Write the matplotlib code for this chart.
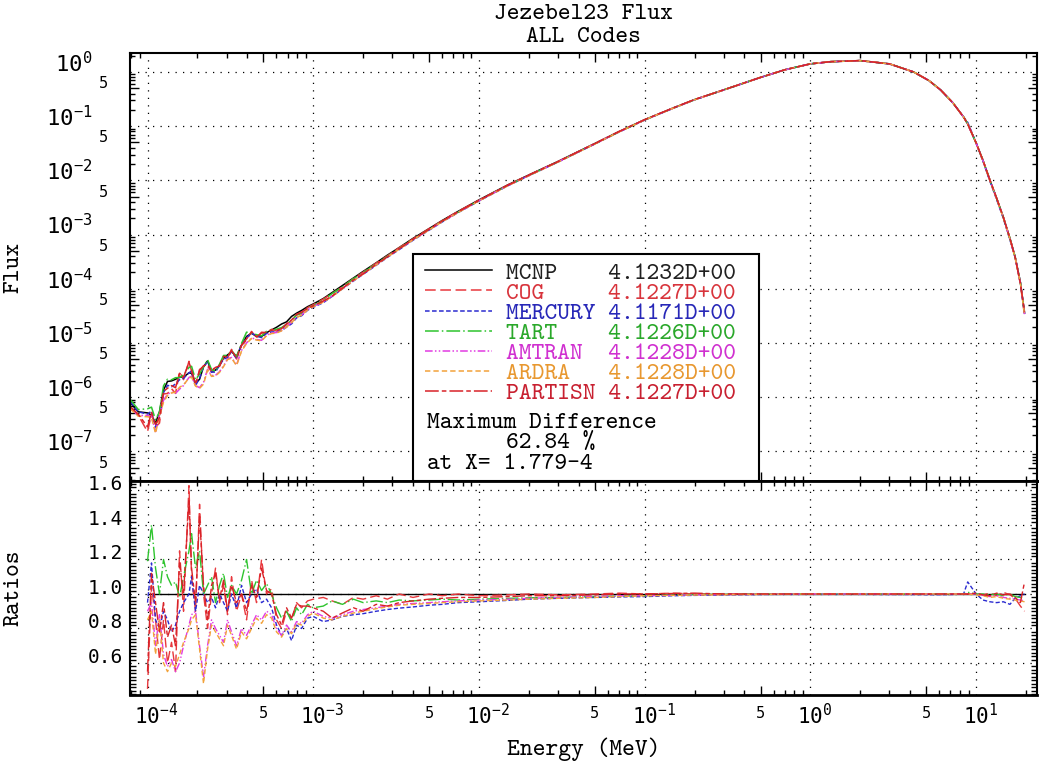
import numpy as np
import matplotlib
matplotlib.use("Agg")
import matplotlib.pyplot as plt
from matplotlib.ticker import FixedLocator, FuncFormatter, MultipleLocator
from matplotlib.patches import Rectangle
from matplotlib.transforms import ScaledTranslation

plt.rcParams['font.family'] = 'DejaVu Sans Mono'
plt.rcParams['mathtext.default'] = 'regular'

# energy grid (MeV)
energy = [7.9e-5, 8.8e-5,
          1.000e-4, 1.057e-4, 1.118e-4, 1.181e-4, 1.249e-4, 1.320e-4, 1.396e-4, 1.476e-4, 1.561e-4, 1.650e-4,
          1.779e-4, 1.844e-4, 1.949e-4, 2.061e-4, 2.178e-4, 2.303e-4, 2.434e-4, 2.573e-4, 2.720e-4, 2.876e-4,
          3.040e-4, 3.214e-4, 3.445e-4, 3.693e-4, 3.959e-4, 4.244e-4, 4.549e-4, 4.877e-4, 5.228e-4, 5.604e-4,
          6.007e-4, 6.440e-4, 6.902e-4, 7.399e-4, 7.932e-4, 8.503e-4, 9.244e-4, 1.000e-3,
          1.15e-3, 1.3e-3, 1.5e-3, 1.75e-3, 2.0e-3, 2.4e-3, 2.8e-3, 3.3e-3, 4.0e-3, 5.0e-3, 6.0e-3, 7.5e-3,
          1.0e-2, 1.5e-2, 2.0e-2, 3.0e-2, 5.0e-2, 7.0e-2, 0.10,
          0.15, 0.20, 0.30, 0.50, 0.70, 1.0, 1.32, 2.0, 3.0, 4.2, 5.2, 6.1, 7.2,
          8.4, 8.9, 10.0, 11.0, 12.1, 13.3, 14.6, 16.0, 17.2, 18.5, 19.6]

# MCNP flux, log10 values
mcnp_log_flux = [-6.11, -6.27,
                 -6.29, -6.33, -6.48, -6.27, -5.87, -5.71, -5.70, -5.67, -5.63, -5.63,
                 -5.55, -5.56, -5.74, -5.67, -5.44, -5.33, -5.53, -5.50, -5.41, -5.28,
                 -5.22, -5.16, -5.25, -5.04, -4.88, -4.82, -4.88, -4.88, -4.81, -4.76,
                 -4.71, -4.65, -4.61, -4.51, -4.45, -4.40, -4.33, -4.28,
                 -4.18, -4.07, -3.94, -3.80, -3.68, -3.52, -3.38, -3.24, -3.07, -2.89, -2.74, -2.57,
                 -2.36, -2.08, -1.90, -1.65, -1.32, -1.10, -0.88,
                 -0.66, -0.51, -0.33, -0.10, 0.04, 0.15, 0.19, 0.21, 0.15, 0.00, -0.16, -0.33, -0.56,
                 -0.83, -0.96, -1.31, -1.63, -1.99, -2.33, -2.68, -3.07, -3.41, -3.88, -4.45]

# ratios code / MCNP
ratio_cog = [0.82, 0.86,
             0.45, 1.05, 0.85, 0.62, 0.85, 0.60, 0.72, 0.55, 1.25, 0.90,
             1.628, 1.10, 0.90, 1.52, 1.00, 0.80, 1.00, 1.15, 0.95, 1.05,
             0.88, 1.10, 0.90, 1.00, 0.85, 1.08, 0.95, 1.20, 1.00, 1.03,
             0.85, 0.80, 0.90, 0.85, 0.95, 0.92, 0.96, 0.97,
             0.98, 0.96, 0.94, 0.98, 0.97, 0.99, 0.97, 1.00, 0.98, 1.00, 0.99, 1.00,
             0.99, 0.995, 1.00, 0.995, 1.00, 1.005, 1.00,
             1.005, 1.00, 1.002, 1.00, 1.00, 1.00, 1.00, 1.00, 1.00, 1.00, 1.00, 1.00, 1.00,
             1.00, 1.00, 1.00, 0.995, 1.005, 0.99, 1.01, 0.995, 0.975, 0.93, 0.90]

ratio_mercury = [1.05, 1.00,
                 0.95, 1.18, 0.85, 0.80, 0.90, 0.85, 0.78, 0.82, 0.90, 0.95,
                 1.00, 1.10, 0.90, 1.05, 1.00, 0.95, 0.98, 0.92, 1.00, 0.95,
                 0.90, 1.00, 0.92, 1.05, 0.95, 1.00, 1.03, 0.95, 0.97, 0.92,
                 0.82, 0.76, 0.80, 0.73, 0.82, 0.80, 0.86, 0.87,
                 0.84, 0.85, 0.87, 0.88, 0.886, 0.90, 0.91, 0.918, 0.925, 0.935, 0.94, 0.95,
                 0.955, 0.963, 0.97, 0.975, 0.98, 0.983, 0.985,
                 0.99, 0.992, 0.995, 0.997, 0.998, 0.998, 0.998, 0.998, 0.997, 0.997, 0.996, 0.996, 0.997,
                 1.00, 1.07, 1.00, 0.965, 0.955, 0.95, 0.955, 0.94, 0.975, 0.99, 1.00]

ratio_tart = [1.15, 1.10,
              1.19, 1.40, 1.15, 1.00, 1.20, 1.10, 1.05, 1.07, 0.98, 1.10,
              1.25, 1.35, 1.15, 1.25, 1.00, 1.05, 1.10, 0.95, 1.05, 1.12,
              0.98, 1.05, 1.00, 1.08, 1.20, 1.00, 1.08, 1.02, 1.06, 1.00,
              0.92, 0.86, 0.90, 0.84, 0.92, 0.88, 0.94, 0.92,
              0.93, 0.96, 0.94, 0.97, 0.95, 0.96, 0.95, 0.965, 0.96, 0.965, 0.97, 0.965,
              0.97, 0.975, 0.978, 0.98, 0.985, 0.988, 0.99,
              0.995, 0.997, 0.998, 1.00, 1.00, 1.00, 1.00, 1.00, 1.00, 1.00, 1.00, 1.00, 1.00,
              1.00, 1.01, 1.00, 1.00, 0.995, 1.00, 0.99, 1.00, 0.985, 0.98, 0.97]

ratio_amtran = [0.80, 0.85,
                0.90, 0.95, 0.70, 0.88, 0.65, 0.58, 0.62, 0.55, 0.60, 0.70,
                0.82, 0.88, 0.90, 0.70, 0.52, 0.70, 0.85, 0.80, 0.76, 0.72,
                0.85, 0.78, 0.70, 0.80, 0.76, 0.82, 0.88, 0.85, 0.90, 0.88,
                0.80, 0.76, 0.82, 0.78, 0.84, 0.83, 0.88, 0.90,
                0.87, 0.86, 0.88, 0.90, 0.91, 0.92, 0.93, 0.94, 0.945, 0.95, 0.955, 0.96,
                0.965, 0.97, 0.975, 0.98, 0.985, 0.99, 0.99,
                0.993, 0.995, 0.997, 0.998, 0.999, 1.00, 1.00, 1.00, 1.00, 1.00, 1.00, 1.00, 1.00,
                1.00, 1.00, 1.00, 0.99, 0.985, 0.99, 0.98, 0.975, 0.97, 0.965, 0.96]

ratio_ardra = [0.78, 0.83,
               0.85, 0.90, 0.65, 0.85, 0.60, 0.55, 0.60, 0.58, 0.65, 0.72,
               0.80, 0.85, 0.88, 0.68, 0.48, 0.68, 0.82, 0.78, 0.74, 0.70,
               0.82, 0.76, 0.68, 0.78, 0.74, 0.80, 0.86, 0.83, 0.88, 0.86,
               0.78, 0.75, 0.80, 0.77, 0.83, 0.82, 0.87, 0.89,
               0.86, 0.85, 0.87, 0.89, 0.90, 0.915, 0.925, 0.935, 0.94, 0.945, 0.95, 0.955,
               0.96, 0.965, 0.97, 0.975, 0.98, 0.985, 0.99,
               0.992, 0.994, 0.996, 0.998, 0.999, 1.00, 1.00, 1.00, 1.00, 1.00, 1.00, 1.00, 1.00,
               1.00, 1.00, 0.995, 0.99, 0.98, 0.985, 0.975, 0.97, 0.965, 0.96, 0.955]

ratio_partisn = [0.85, 0.90,
                 0.55, 1.12, 0.95, 0.78, 0.95, 0.75, 0.82, 0.70, 1.18, 1.00,
                 1.55, 1.15, 0.95, 1.45, 1.05, 0.85, 1.05, 1.12, 0.97, 1.08,
                 0.90, 1.05, 0.95, 1.00, 0.90, 1.05, 0.98, 1.15, 1.02, 1.00,
                 0.88, 0.82, 0.92, 0.86, 0.94, 0.93, 0.93, 0.92,
                 0.90, 0.86, 0.89, 0.92, 0.90, 0.94, 0.93, 0.95, 0.96, 0.97, 0.975, 0.98,
                 0.98, 0.985, 0.99, 0.99, 0.995, 1.00, 1.00,
                 1.003, 1.005, 1.00, 1.00, 1.00, 1.00, 1.00, 1.00, 1.00, 1.00, 1.00, 1.00, 1.00,
                 1.00, 1.00, 1.005, 0.995, 0.99, 1.005, 0.995, 1.00, 0.98, 0.95, 1.07]

codes = ["MCNP", "COG", "MERCURY", "TART", "AMTRAN", "ARDRA", "PARTISN"]
totals = ["4.1232D+00", "4.1227D+00", "4.1171D+00", "4.1226D+00",
          "4.1228D+00", "4.1228D+00", "4.1227D+00"]
max_diff = "62.84 %"
max_diff_at = "1.779-4"

line_colors = ['black', '#e8383d', '#2b2bd0', '#2ec42e', '#e23ae2', '#f2a23a', '#d82228']
text_colors = ['#202020', '#d8343c', '#2828b8', '#2aa82a', '#d030d0', '#e89830', '#c82030']
styles = ['-', (0, (7, 3)), (0, (3, 1.6)), (0, (9, 2, 1, 2)),
          (0, (5, 1.5, 1, 1.5, 1, 1.5)), (0, (3.5, 2)), (0, (9, 2, 3, 2))]

E = np.array(energy)
mcnp = 10.0 ** np.array(mcnp_log_flux)
ratios = [mcnp / mcnp, np.array(ratio_cog), np.array(ratio_mercury), np.array(ratio_tart),
          np.array(ratio_amtran), np.array(ratio_ardra), np.array(ratio_partisn)]
fluxes = [mcnp * r for r in ratios]
rmask = E >= 1e-4

mono = 'cmtt10'
fs = 17.5

fig = plt.figure(figsize=(10.39, 7.67), dpi=100)
ax1 = fig.add_axes([0.12512, 0.37288, 0.87295, 0.55802])
ax2 = fig.add_axes([0.12512, 0.09387, 0.87295, 0.27901], sharex=ax1)

flux_lines = []
for f, c, ls in zip(fluxes, line_colors, styles):
    ln, = ax1.plot(E, f, color=c, linestyle=ls, lw=1.1, zorder=2)
    flux_lines.append(ln)
for r, c, ls in zip(ratios, line_colors, styles):
    ax2.plot(E[rmask], r[rmask], color=c, linestyle=ls, lw=1.0, zorder=2)

ax2.set_xscale('log')
ax1.set_yscale('log')
ax1.set_xlim(7.84e-5, 23.3)
ax1.set_ylim(2.84e-8, 2.24)
ax2.set_ylim(0.4145, 1.655)

x_major = [10.0 ** n for n in range(-5, 3)]
x_minor = [m * 10.0 ** n for n in range(-5, 2) for m in range(2, 10)]
y_major = [10.0 ** n for n in range(-7, 1)]
y_minor = [m * 10.0 ** n for n in range(-8, 1) for m in range(2, 10)]


def is_five(v):
    mant = v / 10.0 ** np.floor(np.log10(v) + 1e-9)
    return abs(mant - 5) < 1e-6


dec_fmt = FuncFormatter(lambda v, p: f"$10^{{{int(round(np.log10(v)))}}}$")
five_fmt = FuncFormatter(lambda v, p: "5" if is_five(v) else "")

ax2.xaxis.set_major_locator(FixedLocator(x_major))
ax2.xaxis.set_minor_locator(FixedLocator(x_minor))
ax2.xaxis.set_major_formatter(dec_fmt)
ax2.xaxis.set_minor_formatter(five_fmt)
ax1.yaxis.set_major_locator(FixedLocator(y_major))
ax1.yaxis.set_minor_locator(FixedLocator(y_minor))
ax1.yaxis.set_major_formatter(dec_fmt)
ax1.yaxis.set_minor_formatter(five_fmt)
ax2.yaxis.set_major_locator(FixedLocator([0.6, 0.8, 1.0, 1.2, 1.4, 1.6]))
ax2.yaxis.set_minor_locator(MultipleLocator(0.02))
ax2.yaxis.set_major_formatter(FuncFormatter(lambda v, p: f"{v:.1f}"))

dots = (0, (1, 5))
for ax in (ax1, ax2):
    ax.grid(True, which='major', linestyle=dots, color='black', lw=0.9)
    ax.tick_params(which='both', direction='in', top=True, right=True,
                   color='black', width=1.0)
    ax.tick_params(which='major', length=0)
    ax.tick_params(which='minor', length=3.5)
    for s in ax.spines.values():
        s.set_linewidth(1.5)

ax1.tick_params(axis='x', which='both', labelbottom=False)
ax1.tick_params(axis='y', which='major', labelsize=16, pad=27)
ax1.tick_params(axis='y', which='minor', labelsize=11, pad=16)
ax2.tick_params(axis='x', which='major', labelsize=15, pad=6)
ax2.tick_params(axis='x', which='minor', labelsize=11, pad=8)
ax2.tick_params(axis='y', which='major', labelsize=14, pad=5)
ax2.tick_params(axis='y', which='minor', length=4)
ax1.spines['bottom'].set_linewidth(2)
ax2.spines['top'].set_linewidth(2)
ax2.spines['bottom'].set_linewidth(2)


def lengthen_fives(axis, locs):
    for loc, t in zip(locs, axis.get_minor_ticks(len(locs))):
        if is_five(loc):
            t.tick1line.set_markersize(6.5)
            t.tick2line.set_markersize(6.5)


for ax in (ax1, ax2):
    lengthen_fives(ax.xaxis, x_minor)
lengthen_fives(ax1.yaxis, y_minor)

# IDL style: labels sit on their tick with the baseline
for t in ax1.yaxis.get_major_ticks(len(y_major)) + ax1.yaxis.get_minor_ticks(len(y_minor)):
    t.label1.set_verticalalignment('baseline')
for t in ax2.yaxis.get_major_ticks(6):
    t.label1.set_verticalalignment('baseline')
# centre the "10" (not the whole label) on the decade tick
for loc, t in zip(x_major, ax2.xaxis.get_major_ticks(len(x_major))):
    nexp = len(str(int(round(np.log10(loc)))))
    t.label1.set_transform(t.label1.get_transform() +
                           ScaledTranslation(0.045 * nexp, 0, fig.dpi_scale_trans))

# axis labels and title
ax1.set_ylabel("Flux", family=mono, fontsize=fs)
ax2.set_ylabel("Ratios", family=mono, fontsize=fs)
ax1.yaxis.set_label_coords(-0.116, 0.5)
ax2.yaxis.set_label_coords(-0.116, 0.5)
ax2.set_xlabel("Energy (MeV)", family=mono, fontsize=fs)
ax2.xaxis.set_label_coords(0.5, -0.2)
ax1.text(0.5, 1.0888, "Jezebel23 Flux", transform=ax1.transAxes, ha='center', va='center',
         family=mono, fontsize=fs)
ax1.text(0.5, 1.036, "ALL Codes", transform=ax1.transAxes, ha='center', va='center',
         family=mono, fontsize=fs)

# legend box
ax1.add_patch(Rectangle((0.312, 0.0), 0.3815, 0.5304, transform=ax1.transAxes,
                        facecolor='white', edgecolor='black', lw=1.5, zorder=4, clip_on=False))
leg = ax1.legend(flux_lines, [f"{c:<8}{t}" for c, t in zip(codes, totals)],
                 loc='upper left', bbox_to_anchor=(0.3252, 0.512), frameon=False,
                 borderpad=0, borderaxespad=0, handlelength=2.75, handletextpad=0.58,
                 labelspacing=-0.12, prop={'family': mono, 'size': fs})
leg.set_zorder(6)
for txt, c in zip(leg.get_texts(), text_colors):
    txt.set_color(c)
ax1.text(0.3275, 0.1332, "Maximum Difference", transform=ax1.transAxes, va='center',
         family=mono, fontsize=fs, zorder=6)
ax1.text(0.4146, 0.0865, max_diff, transform=ax1.transAxes, va='center',
         family=mono, fontsize=fs, zorder=6)
ax1.text(0.3275, 0.0374, "at X= " + max_diff_at, transform=ax1.transAxes, va='center',
         family=mono, fontsize=fs, zorder=6)

fig.savefig("out.png", dpi=100)
